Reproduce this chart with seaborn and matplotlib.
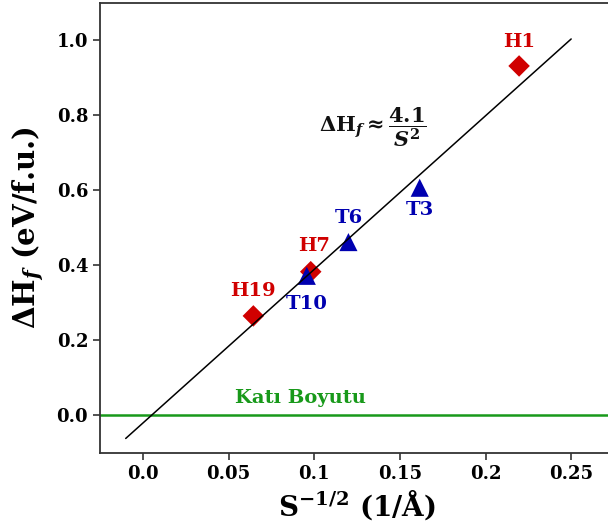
import matplotlib
matplotlib.use("Agg")
import matplotlib.pyplot as plt
import seaborn as sns
import pandas as pd

# Data
h_names = ["H1", "H7", "H19"]
h_x = [0.2196, 0.098, 0.0645]
h_y = [0.932, 0.383, 0.265]
t_names = ["T3", "T6", "T10"]
t_x = [0.1616, 0.120, 0.0957]
t_y = [0.607, 0.462, 0.372]
fit_x = [-0.01, 0.25]
fit_y = [-0.062, 1.004]
bulk_label = "Katı Boyutu"
xticks = [0.0, 0.05, 0.1, 0.15, 0.2, 0.25]
xtick_labels = ["0.0", "0.05", "0.1", "0.15", "0.2", "0.25"]
yticks = [0.0, 0.2, 0.4, 0.6, 0.8, 1.0]
ytick_labels = ["0.0", "0.2", "0.4", "0.6", "0.8", "1.0"]

RED = "#d00000"
BLUE = "#0000b0"
GREEN = "#18991a"

sns.set_style("ticks")
plt.rcParams["font.family"] = ["DejaVu Serif"]
plt.rcParams["font.weight"] = "bold"
plt.rcParams["axes.labelweight"] = "bold"
plt.rcParams["mathtext.fontset"] = "dejavuserif"
plt.rcParams["axes.unicode_minus"] = False
plt.rcParams["text.color"] = "black"
plt.rcParams["axes.labelcolor"] = "black"
plt.rcParams["xtick.labelcolor"] = "black"
plt.rcParams["ytick.labelcolor"] = "black"

fig = plt.figure(figsize=(6.08, 5.31), dpi=100)
ax = fig.add_axes([100 / 608, 1 - 452.7 / 531, 514 / 608, 449.7 / 531])

df_h = pd.DataFrame({"x": h_x, "y": h_y, "name": h_names})
df_t = pd.DataFrame({"x": t_x, "y": t_y, "name": t_names})
df_fit = pd.DataFrame({"x": fit_x, "y": fit_y})

ax.axhline(0.0, color=GREEN, lw=1.8, zorder=1)
sns.scatterplot(data=df_h, x="x", y="y", marker="D", s=120, color=RED,
                edgecolor="none", ax=ax, zorder=3)
sns.scatterplot(data=df_t, x="x", y="y", marker="^", s=170, color=BLUE,
                edgecolor="none", ax=ax, zorder=4)
sns.lineplot(data=df_fit, x="x", y="y", color="black", lw=1.1, ax=ax, zorder=5)

# point labels
fs = 14
h_off = {"H1": (0.0, 0.064), "H7": (0.002, 0.068), "H19": (0.0, 0.066)}
t_off = {"T3": (0.0, -0.06), "T6": (0.0, 0.065), "T10": (0.0, -0.074)}
for n, x, y in zip(h_names, h_x, h_y):
    dx, dy = h_off[n]
    ax.text(x + dx, y + dy, n, color=RED, fontsize=fs, ha="center", va="center", zorder=6)
for n, x, y in zip(t_names, t_x, t_y):
    dx, dy = t_off[n]
    ax.text(x + dx, y + dy, n, color=BLUE, fontsize=fs, ha="center", va="center", zorder=6)

ax.text(0.092, 0.045, bulk_label, color=GREEN, fontsize=fs, ha="center", va="center")
ax.text(0.134, 0.77, r"ΔH$_f\approx\dfrac{\mathbf{4.1}}{S^2}$",
        fontsize=15, ha="center", va="center", color="#111111")

ax.set_xlim(-0.025, 0.275)
ax.set_ylim(-0.1, 1.1)
ax.set_xticks(xticks)
ax.set_xticklabels(xtick_labels)
ax.set_yticks(yticks)
ax.set_yticklabels(ytick_labels)
ax.tick_params(labelsize=13, length=5, width=1.2, color="#333333")
ax.set_xlabel(r"S$^{\mathbf{-1/2}}$ (1/Å)", fontsize=20, fontweight="bold", labelpad=4)
ax.set_ylabel(r"ΔH$_f$ (eV/f.u.)", fontsize=21, fontweight="bold", labelpad=7)
for sp in ax.spines.values():
    sp.set_color("#333333")
    sp.set_linewidth(1.3)

fig.savefig("out.png", dpi=100)
